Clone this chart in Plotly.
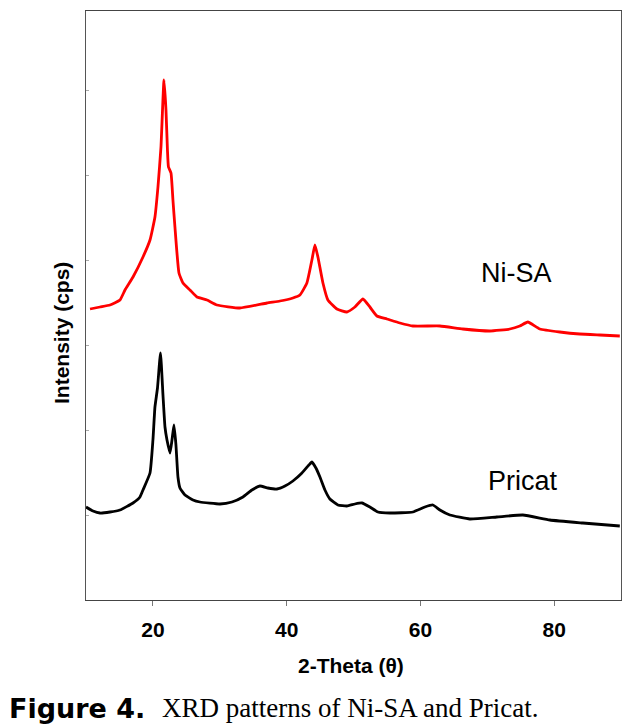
import plotly.graph_objects as go

# 2-theta (deg) and intensity (arbitrary cps)
ni_sa_2theta = [10.6, 12.09, 13.59, 15.08, 15.83, 17.03, 18.52, 19.57, 20.31, 20.76, 21.21, 21.66,
                21.96, 22.18, 22.33, 22.71, 23.0, 23.3, 23.9, 24.5, 25.55, 26.59, 28.09, 29.58,
                33.02, 37.06, 39.0, 40.94, 41.99, 43.03, 43.78, 44.23, 44.68, 45.43, 46.17, 47.52,
                49.01, 50.21, 51.41, 52.45, 53.5, 54.99, 56.94, 58.88, 62.92, 66.35, 70.39, 73.38,
                74.87, 76.07, 77.86, 80.85, 83.84, 86.83, 89.82]
ni_sa_int = [2910, 2930, 2950, 3000, 3100, 3230, 3430, 3600, 3830, 4130, 4530, 5200,
             4900, 4500, 4330, 4270, 4000, 3730, 3270, 3170, 3100, 3030, 3000, 2950,
             2920, 2970, 2990, 3020, 3050, 3170, 3400, 3550, 3430, 3170, 3000, 2910,
             2880, 2930, 3010, 2930, 2840, 2810, 2770, 2740, 2740, 2710, 2690, 2710,
             2740, 2780, 2710, 2680, 2660, 2650, 2640]

pricat_2theta = [10.0, 11.05, 12.09, 13.59, 15.08, 17.03, 18.07, 18.52, 19.57, 20.01, 20.31, 20.69,
                 21.14, 21.51, 21.81, 22.11, 22.56, 22.86, 23.15, 23.45, 23.75, 24.05, 24.8, 26.0,
                 27.04, 30.03, 31.82, 33.47, 34.81, 36.01, 37.2, 38.55, 39.75, 40.94, 42.29, 43.33,
                 43.78, 44.38, 44.98, 45.73, 46.47, 47.67, 49.01, 50.21, 51.26, 52.45, 53.65, 55.44,
                 58.88, 60.67, 61.87, 62.92, 64.41, 67.4, 71.43, 75.32, 79.36, 84.29, 89.82]
pricat_int = [930, 890, 870, 880, 900, 970, 1030, 1100, 1270, 1600, 1930, 2120,
              2470, 2050, 1730, 1600, 1470, 1600, 1750, 1550, 1230, 1120, 1050, 1000,
              980, 960, 980, 1030, 1100, 1140, 1120, 1110, 1140, 1190, 1270, 1350,
              1380, 1320, 1230, 1100, 1010, 950, 940, 960, 970, 930, 880, 870,
              880, 930, 950, 900, 850, 810, 830, 850, 800, 770, 740]

x_ticks = [20, 40, 60, 80]
series_labels = ["Ni-SA", "Pricat"]

# the page body adds an 8px offset; compensate so the plot lands where the reference has it
OFF = 8
W, H = 639 - OFF, 726 - OFF
L, R, T, B = 86 - OFF, 18, 11 - OFF, 126
ph = H - T - B  # 589
pw = W - L - R  # 535

def px(xp):  # reference pixel x -> paper
    return (xp - 86) / pw

def py(yp):  # reference pixel y -> paper
    return (600 - yp) / ph

fig = go.Figure()
fig.add_trace(go.Scatter(x=ni_sa_2theta, y=ni_sa_int, mode="lines",
                         line=dict(color="#ff0000", width=2.8, shape="spline", smoothing=0.4),
                         name=series_labels[0]))
fig.add_trace(go.Scatter(x=pricat_2theta, y=pricat_int, mode="lines",
                         line=dict(color="#000000", width=2.8, shape="spline", smoothing=0.4),
                         name=series_labels[1]))

axis_font = dict(family="Liberation Sans, Arial", size=21, color="black")

fig.update_layout(
    width=W, height=H,
    margin=dict(l=L, r=R, t=T, b=B),
    paper_bgcolor="white", plot_bgcolor="white",
    showlegend=False,
    xaxis=dict(range=[10, 90], tickvals=x_ticks, ticktext=[f"<b>{v}</b>" for v in x_ticks],
               ticks="outside", ticklen=5, tickcolor="#777", tickwidth=1,
               showline=True, linecolor="#444", linewidth=1, mirror=True,
               showgrid=False, zeroline=False, tickfont=axis_font, ticklabelstandoff=6),
    yaxis=dict(range=[0, 5890], dtick=850, tick0=0, showticklabels=False,
               ticks="inside", ticklen=3, tickcolor="#aaa", tickwidth=1,
               showline=True, linecolor="#555", linewidth=1, mirror=True,
               showgrid=False, zeroline=False),
)

ann = [
    dict(text="<b>2-Theta (θ)</b>", x=px(351), y=py(665), font=axis_font),
    dict(text="<b>Intensity (cps)</b>", x=px(61), y=py(333), textangle=-90, font=axis_font),
    dict(text=series_labels[0], x=px(516), y=py(273),
         font=dict(family="Liberation Sans, Arial", size=27, color="black")),
    dict(text=series_labels[1], x=px(523), y=py(481),
         font=dict(family="Liberation Sans, Arial", size=27, color="black")),
    dict(text="<b>Figure 4.</b>", x=px(7), y=py(708), xanchor="left",
         font=dict(family="DejaVu Sans, Arial", size=27, color="black")),
    dict(text="XRD patterns of Ni-SA and Pricat.", x=px(160), y=py(708), xanchor="left",
         font=dict(family="Liberation Serif, Times New Roman", size=27, color="black")),
]
for a in ann:
    a.setdefault("xanchor", "center")
    fig.add_annotation(xref="paper", yref="paper", showarrow=False, yanchor="middle", **a)

fig.write_html("out.html")
